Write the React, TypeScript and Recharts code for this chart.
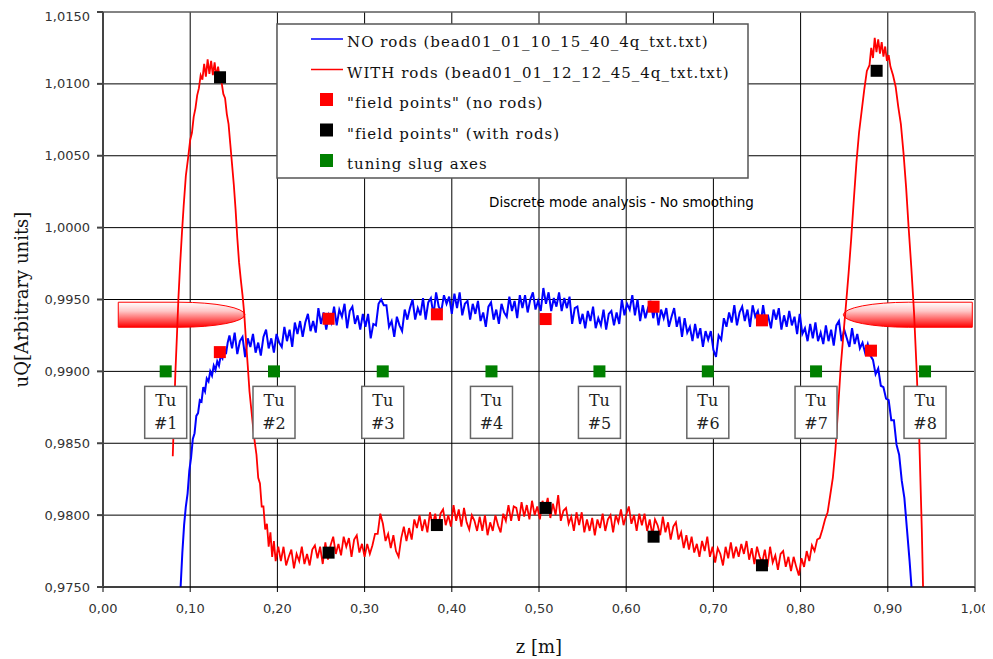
import React from "react";
import {
  ComposedChart,
  Line,
  Scatter,
  XAxis,
  YAxis,
  CartesianGrid,
  ReferenceArea,
  ReferenceLine,
  Customized,
} from "recharts";

// NO rods (blue trace), [z, uQ]
const noRods: [number, number][] = [
  [0.086, 0.97], [0.089, 0.975], [0.091, 0.9774], [0.093, 0.9793], [0.095, 0.9806], [0.097, 0.9815],
  [0.099, 0.9831], [0.101, 0.984], [0.103, 0.9853], [0.105, 0.9857], [0.107, 0.9869], [0.109, 0.9871],
  [0.111, 0.988], [0.113, 0.9879], [0.115, 0.9889], [0.117, 0.9886], [0.119, 0.9895], [0.121, 0.9893],
  [0.123, 0.99], [0.125, 0.9897], [0.127, 0.9904], [0.129, 0.9901], [0.131, 0.9907], [0.133, 0.9904],
  [0.135, 0.9911], [0.137, 0.9909], [0.139, 0.9916], [0.141, 0.9912], [0.143, 0.992],
  [0.145, 0.9925], [0.148, 0.9916], [0.151, 0.9927], [0.154, 0.9912], [0.157, 0.9921], [0.16, 0.9924],
  [0.163, 0.991], [0.166, 0.9923], [0.169, 0.9917], [0.172, 0.9926], [0.175, 0.9913], [0.178, 0.992],
  [0.181, 0.9911], [0.184, 0.9924], [0.187, 0.9929], [0.19, 0.9916], [0.193, 0.9923], [0.196, 0.9913],
  [0.199, 0.9926],
  [0.202, 0.992], [0.205, 0.9917], [0.208, 0.9931], [0.211, 0.9921], [0.214, 0.9929], [0.217, 0.9917],
  [0.22, 0.9934], [0.223, 0.9926], [0.226, 0.9935], [0.229, 0.9924], [0.232, 0.9934], [0.235, 0.994],
  [0.238, 0.9928], [0.241, 0.9935], [0.244, 0.9927], [0.247, 0.9944], [0.25, 0.9933], [0.253, 0.9941],
  [0.256, 0.9929],
  [0.259, 0.9939], [0.262, 0.9934], [0.265, 0.9945], [0.268, 0.9932], [0.271, 0.9943], [0.274, 0.9938],
  [0.277, 0.9947], [0.28, 0.993], [0.283, 0.9942], [0.286, 0.9945], [0.289, 0.9933], [0.292, 0.9939],
  [0.295, 0.9929], [0.298, 0.994],
  [0.301, 0.9931], [0.304, 0.994], [0.307, 0.9923], [0.31, 0.9933], [0.313, 0.9932], [0.316, 0.9947],
  [0.319, 0.995], [0.322, 0.9946], [0.325, 0.9946], [0.328, 0.9931], [0.331, 0.9935], [0.334, 0.9924],
  [0.337, 0.9938],
  [0.34, 0.9932], [0.343, 0.9928], [0.346, 0.9943], [0.349, 0.9936], [0.352, 0.9944], [0.355, 0.995],
  [0.358, 0.9936], [0.361, 0.9944], [0.364, 0.9939], [0.367, 0.9951], [0.37, 0.9936], [0.373, 0.9948],
  [0.376, 0.9951], [0.379, 0.9939], [0.382, 0.9955], [0.385, 0.9945], [0.388, 0.9942], [0.391, 0.9953],
  [0.394, 0.9947], [0.397, 0.9952], [0.4, 0.994],
  [0.403, 0.9954], [0.406, 0.9944], [0.409, 0.9955], [0.412, 0.9939], [0.415, 0.9947], [0.418, 0.9949],
  [0.421, 0.9936], [0.424, 0.9947], [0.427, 0.994], [0.43, 0.9949], [0.433, 0.9935], [0.436, 0.9941],
  [0.439, 0.9931], [0.442, 0.9945], [0.445, 0.9948], [0.448, 0.9936], [0.451, 0.9943], [0.454, 0.9933],
  [0.457, 0.9947], [0.46, 0.9941], [0.463, 0.9938], [0.466, 0.9952], [0.469, 0.9942], [0.472, 0.9949],
  [0.475, 0.9937], [0.478, 0.9953], [0.481, 0.9944], [0.484, 0.9953], [0.487, 0.9941], [0.49, 0.995],
  [0.493, 0.9955], [0.496, 0.9943], [0.499, 0.9949], [0.502, 0.9942], [0.505, 0.9958], [0.508, 0.9947],
  [0.511, 0.9955],
  [0.514, 0.9942], [0.517, 0.9951], [0.52, 0.9945], [0.523, 0.9955], [0.526, 0.9942], [0.529, 0.9951],
  [0.532, 0.9944], [0.535, 0.9952], [0.538, 0.9933], [0.541, 0.9944], [0.544, 0.9945], [0.547, 0.9933],
  [0.55, 0.994], [0.553, 0.993], [0.556, 0.9942], [0.559, 0.9935], [0.562, 0.9945], [0.565, 0.993],
  [0.568, 0.9937], [0.571, 0.9932], [0.574, 0.9943], [0.577, 0.9929], [0.58, 0.994], [0.583, 0.9942],
  [0.586, 0.9932], [0.589, 0.9941], [0.592, 0.9933], [0.595, 0.995], [0.598, 0.9939], [0.601, 0.9947],
  [0.604, 0.9943], [0.607, 0.9953], [0.61, 0.9939], [0.613, 0.995], [0.616, 0.9935], [0.619, 0.9946],
  [0.622, 0.9937], [0.625, 0.9944], [0.628, 0.9949], [0.631, 0.9937], [0.634, 0.9946], [0.637, 0.9932],
  [0.64, 0.9943], [0.643, 0.9937], [0.646, 0.9944], [0.649, 0.9931], [0.652, 0.9938], [0.655, 0.9944],
  [0.658, 0.9931], [0.661, 0.9938], [0.664, 0.9924], [0.667, 0.9937], [0.67, 0.9927], [0.673, 0.9931],
  [0.676, 0.9921],
  [0.679, 0.9933], [0.682, 0.9923], [0.685, 0.993], [0.688, 0.9917], [0.691, 0.9928], [0.694, 0.9922],
  [0.697, 0.9928], [0.7, 0.9915], [0.703, 0.991], [0.706, 0.9925], [0.709, 0.9922], [0.712, 0.9937],
  [0.715, 0.9931], [0.718, 0.9941],
  [0.721, 0.9934], [0.724, 0.9946], [0.727, 0.9932], [0.73, 0.9941], [0.733, 0.9945], [0.736, 0.9935],
  [0.739, 0.9943], [0.742, 0.9931], [0.745, 0.9946], [0.748, 0.9938], [0.751, 0.9942], [0.754, 0.9932],
  [0.757, 0.9946], [0.76, 0.9934], [0.763, 0.9938], [0.766, 0.993], [0.769, 0.9943], [0.772, 0.9936],
  [0.775, 0.9944],
  [0.778, 0.9929], [0.781, 0.9939], [0.784, 0.9931], [0.787, 0.9942], [0.79, 0.9932], [0.793, 0.9938],
  [0.796, 0.9926], [0.799, 0.994], [0.802, 0.9926], [0.805, 0.993], [0.808, 0.9921], [0.811, 0.9933],
  [0.814, 0.9923], [0.817, 0.9934], [0.82, 0.9921], [0.823, 0.9927], [0.826, 0.9919],
  [0.829, 0.9932], [0.832, 0.9921], [0.835, 0.9929], [0.838, 0.9918], [0.841, 0.9932], [0.844, 0.9935],
  [0.847, 0.9921], [0.85, 0.9929], [0.853, 0.9923], [0.856, 0.9917], [0.859, 0.993], [0.862, 0.9919],
  [0.865, 0.9926], [0.868, 0.9916],
  [0.871, 0.992], [0.874, 0.9913], [0.877, 0.9919], [0.88, 0.9911], [0.883, 0.9908], [0.886, 0.9898],
  [0.889, 0.9902], [0.892, 0.989], [0.895, 0.9889], [0.898, 0.9881], [0.901, 0.988], [0.904, 0.9866],
  [0.907, 0.9866], [0.91, 0.9849], [0.913, 0.9842], [0.916, 0.9824], [0.919, 0.9812], [0.922, 0.979],
  [0.925, 0.9768], [0.928, 0.9743], [0.931, 0.971],
];

// WITH rods (red trace), [z, uQ]
const withRods: [number, number][] = [
  [0.08, 0.9841], [0.0815, 0.987], [0.083, 0.9899], [0.0848, 0.9925], [0.0865, 0.9951], [0.0885, 0.9975],
  [0.0905, 0.9996], [0.0925, 1.0015], [0.095, 1.0036], [0.0975, 1.0048], [0.1, 1.0061], [0.102, 1.0066],
  [0.104, 1.0077], [0.106, 1.0083], [0.108, 1.0092], [0.11, 1.0097], [0.112, 1.0106], [0.114, 1.0103],
  [0.116, 1.0114], [0.118, 1.0105], [0.12, 1.0117], [0.122, 1.0107], [0.124, 1.0116], [0.126, 1.0106],
  [0.128, 1.0115], [0.13, 1.0105], [0.132, 1.0112], [0.134, 1.0103], [0.136, 1.0101], [0.138, 1.0093],
  [0.14, 1.009], [0.142, 1.0079], [0.144, 1.0072], [0.146, 1.0058], [0.148, 1.0044], [0.15, 1.003],
  [0.152, 1.0013], [0.154, 0.9993], [0.156, 0.9976], [0.158, 0.9964], [0.16, 0.9953], [0.162, 0.994],
  [0.164, 0.9921], [0.166, 0.9904], [0.168, 0.9886], [0.17, 0.9874], [0.172, 0.9862], [0.174, 0.9851],
  [0.176, 0.9842], [0.178, 0.9826], [0.18, 0.9822], [0.182, 0.9806], [0.184, 0.9806], [0.186, 0.979],
  [0.188, 0.9794], [0.19, 0.9778], [0.192, 0.9788], [0.194, 0.9771], [0.196, 0.9782], [0.198, 0.9768],
  [0.201, 0.9778], [0.204, 0.9768], [0.207, 0.9778], [0.21, 0.9765], [0.213, 0.9771], [0.216, 0.9776],
  [0.219, 0.9763], [0.222, 0.9773], [0.225, 0.9768], [0.228, 0.9778], [0.231, 0.9766], [0.234, 0.9773],
  [0.237, 0.9765], [0.24, 0.9776], [0.243, 0.9779], [0.246, 0.977], [0.249, 0.9778], [0.252, 0.9766],
  [0.255, 0.9781],
  [0.258, 0.9769], [0.261, 0.9779], [0.264, 0.9785], [0.267, 0.9773], [0.27, 0.978], [0.273, 0.9772],
  [0.276, 0.9785], [0.279, 0.9778], [0.282, 0.9784], [0.285, 0.9771], [0.288, 0.9783], [0.291, 0.9786],
  [0.294, 0.9774], [0.297, 0.978], [0.3, 0.9771], [0.303, 0.978], [0.306, 0.9773], [0.309, 0.9779],
  [0.312, 0.9787], [0.315, 0.9787], [0.318, 0.9801], [0.321, 0.9794], [0.324, 0.9782], [0.327, 0.9787],
  [0.33, 0.9777], [0.333, 0.9786], [0.336, 0.9775], [0.339, 0.9771], [0.342, 0.9784], [0.345, 0.9792],
  [0.348, 0.9782], [0.351, 0.9791], [0.354, 0.9783], [0.357, 0.9797], [0.36, 0.9791], [0.363, 0.98],
  [0.366, 0.9789], [0.369, 0.9797], [0.372, 0.9788], [0.375, 0.9802], [0.378, 0.9793], [0.381, 0.9801],
  [0.384, 0.9789], [0.387, 0.9801], [0.39, 0.9804], [0.393, 0.9793], [0.396, 0.98], [0.399, 0.9792],
  [0.402, 0.9807],
  [0.405, 0.9796], [0.408, 0.9804], [0.411, 0.9792], [0.414, 0.9805], [0.417, 0.9795], [0.42, 0.979],
  [0.423, 0.98], [0.426, 0.9796], [0.429, 0.9789], [0.432, 0.9799], [0.435, 0.9789], [0.438, 0.98],
  [0.441, 0.9786], [0.444, 0.9795], [0.447, 0.9789], [0.45, 0.98], [0.453, 0.9793], [0.456, 0.9788],
  [0.459, 0.9801], [0.462, 0.9796], [0.465, 0.9807], [0.468, 0.9796], [0.471, 0.9806], [0.474, 0.9805],
  [0.477, 0.9796], [0.48, 0.9809], [0.483, 0.9799], [0.486, 0.9807], [0.489, 0.9797], [0.492, 0.981],
  [0.495, 0.98], [0.498, 0.9806], [0.501, 0.9797], [0.504, 0.981], [0.507, 0.9804], [0.51, 0.9812],
  [0.513, 0.9798], [0.516, 0.9808], [0.519, 0.98], [0.522, 0.9814], [0.525, 0.9796], [0.528, 0.9803],
  [0.531, 0.9805], [0.534, 0.9794], [0.537, 0.9799], [0.54, 0.9789], [0.543, 0.9802], [0.546, 0.9793],
  [0.549, 0.9802], [0.552, 0.9788], [0.555, 0.9797], [0.558, 0.9789], [0.561, 0.9798], [0.564, 0.9786],
  [0.567, 0.9797], [0.57, 0.9791], [0.573, 0.9801], [0.576, 0.9789], [0.579, 0.9797], [0.582, 0.98],
  [0.585, 0.9788], [0.588, 0.98], [0.591, 0.9795], [0.594, 0.9804], [0.597, 0.9793], [0.6, 0.98],
  [0.603, 0.9806], [0.606, 0.9794], [0.609, 0.98], [0.612, 0.9789], [0.615, 0.9801], [0.618, 0.9793],
  [0.621, 0.9801], [0.624, 0.9789], [0.627, 0.9797], [0.63, 0.9786], [0.633, 0.9797], [0.636, 0.9793],
  [0.639, 0.9786], [0.642, 0.9799], [0.645, 0.9788], [0.648, 0.9795], [0.651, 0.9783], [0.654, 0.9792],
  [0.657, 0.9795], [0.66, 0.9783], [0.663, 0.9788], [0.666, 0.9777], [0.669, 0.9786], [0.672, 0.9776],
  [0.675, 0.9785], [0.678, 0.9774], [0.681, 0.978], [0.684, 0.9771], [0.687, 0.9782], [0.69, 0.9775],
  [0.693, 0.9785], [0.696, 0.9771], [0.699, 0.9778], [0.702, 0.9767], [0.705, 0.9777], [0.708, 0.9773],
  [0.711, 0.9765], [0.714, 0.9778], [0.717, 0.977], [0.72, 0.9781], [0.723, 0.977], [0.726, 0.9778],
  [0.729, 0.9771], [0.732, 0.978], [0.735, 0.9773], [0.738, 0.9782], [0.741, 0.9769], [0.744, 0.9777],
  [0.747, 0.9766], [0.75, 0.9778], [0.753, 0.9771], [0.756, 0.9767], [0.759, 0.9776], [0.762, 0.9764],
  [0.765, 0.9778], [0.768, 0.9767], [0.771, 0.9772], [0.774, 0.9762], [0.777, 0.9773], [0.78, 0.9775],
  [0.783, 0.9764], [0.786, 0.9771], [0.789, 0.9761], [0.792, 0.9771], [0.795, 0.9764], [0.798, 0.9758],
  [0.801, 0.977], [0.804, 0.9764], [0.807, 0.9775], [0.81, 0.9768], [0.813, 0.9779], [0.816, 0.9775],
  [0.819, 0.9783],
  [0.822, 0.9784], [0.825, 0.979], [0.828, 0.9797], [0.831, 0.9802], [0.834, 0.9814], [0.837, 0.9826],
  [0.84, 0.9846], [0.843, 0.9874], [0.846, 0.9903], [0.849, 0.9925], [0.852, 0.9946], [0.855, 0.9968],
  [0.858, 0.9992], [0.861, 1.0019], [0.864, 1.0045], [0.867, 1.0066], [0.87, 1.0081], [0.873, 1.0096],
  [0.876, 1.0109], [0.879, 1.0113], [0.881, 1.0125], [0.883, 1.0118], [0.885, 1.0132], [0.887, 1.0122],
  [0.889, 1.0131], [0.891, 1.0121], [0.893, 1.0129], [0.895, 1.0119], [0.897, 1.0126], [0.899, 1.0116],
  [0.901, 1.012], [0.903, 1.0112], [0.906, 1.0106], [0.909, 1.0098], [0.912, 1.0084], [0.915, 1.0072],
  [0.918, 1.0052], [0.921, 1.0028], [0.924, 0.9999], [0.927, 0.9972], [0.93, 0.9942], [0.933, 0.9902],
  [0.936, 0.9855], [0.939, 0.979], [0.9415, 0.972],
];

// "field points"
const fieldZNoRods = [0.134, 0.2587, 0.3829, 0.5076, 0.6314, 0.7557, 0.8807];
const fieldQNoRods = [0.99134, 0.99366, 0.99397, 0.99364, 0.9945, 0.99355, 0.99144];
const fieldZWithRods = [0.1342, 0.2587, 0.3829, 0.5076, 0.6314, 0.7557, 0.8872];
const fieldQWithRods = [1.01046, 0.97739, 0.97931, 0.9805, 0.9785, 0.97651, 1.01091];

// tuning slug axes
const slugZ = [0.0719, 0.1961, 0.3208, 0.4455, 0.5693, 0.6936, 0.8177, 0.9427];
const slugQ = 0.99;
const slugLabels = ["#1", "#2", "#3", "#4", "#5", "#6", "#7", "#8"];

// rods drawn on the plot: [z start, z end, rounded side]
const rodZ: [number, number, string][] = [
  [0.0175, 0.1628, "right"],
  [0.8489, 0.9969, "left"],
];
const rodQ = [0.99307, 0.99481];

const xTicks = [0, 0.1, 0.2, 0.3, 0.4, 0.5, 0.6, 0.7, 0.8, 0.9, 1];
const yTicks = [0.975, 0.98, 0.985, 0.99, 0.995, 1, 1.005, 1.01, 1.015];

const legendItems = [
  { kind: "line", color: "#0000ff", text: "NO rods (bead01_01_10_15_40_4q_txt.txt)" },
  { kind: "line", color: "#ff0000", text: "WITH rods (bead01_01_12_12_45_4q_txt.txt)" },
  { kind: "square", color: "#ff0000", text: "\"field points\" (no rods)" },
  { kind: "square", color: "#000000", text: "\"field points\" (with rods)" },
  { kind: "square", color: "#008000", text: "tuning slug axes" },
];

const toPts = (arr: [number, number][]) => arr.map(([z, q]) => ({ z, q }));
const noRodsData = toPts(noRods);
const withRodsData = toPts(withRods);
const fieldNoData = fieldZNoRods.map((z, i) => ({ z, q: fieldQNoRods[i] }));
const fieldWithData = fieldZWithRods.map((z, i) => ({ z, q: fieldQWithRods[i] }));
const slugData = slugZ.map((z, i) => ({ z, q: slugQ, label: slugLabels[i] }));

const tickFont = { fontFamily: "DejaVu Sans", fontSize: 13, fill: "#333" };

const square = (color: string) => (p: any) =>
  <rect x={p.cx - 6} y={p.cy - 6} width={12} height={12} fill={color} />;

const TuBox = (p: any) => (
  <g>
    <rect x={p.cx - 21} y={p.cy + 15} width={42} height={52} fill="#fff" stroke="#666" strokeWidth={1.5} />
    <text x={p.cx} y={p.cy + 29} textAnchor="middle" dominantBaseline="central"
      fontFamily="DejaVu Serif" fontSize={16} fill="#222">Tu</text>
    <text x={p.cx} y={p.cy + 52} textAnchor="middle" dominantBaseline="central"
      fontFamily="DejaVu Serif" fontSize={16} fill="#222">{p.payload.label}</text>
  </g>
);

const rodShape = (side: string) => (p: any) => {
  const { x, y, width, height } = p;
  const rx = 65;
  const d = side === "right"
    ? `M${x},${y} H${x + width - rx} A${rx},${height / 2} 0 0 1 ${x + width - rx},${y + height} H${x} Z`
    : `M${x + width},${y} H${x + rx} A${rx},${height / 2} 0 0 0 ${x + rx},${y + height} H${x + width} Z`;
  return <path d={d} fill="url(#rodFill)" stroke="#ff0000" strokeWidth={1} />;
};

const ChartLegend = () => (
  <g>
    <rect x={269} y={16} width={471} height={154} fill="#fff" stroke="#555" strokeWidth={1.5} />
    {legendItems.map((it, i) => {
      const cy = 34 + i * 30.5;
      return (
        <g key={i}>
          {it.kind === "line"
            ? <line x1={303} x2={335} y1={cy - 3} y2={cy - 3} stroke={it.color} strokeWidth={1.5} />
            : <rect x={312} y={cy - 10} width={13} height={13} fill={it.color} />}
          <text x={339} y={cy} dominantBaseline="central" fontFamily="DejaVu Serif"
            fontSize={15} letterSpacing={1} fill="#111">{it.text}</text>
        </g>
      );
    })}
    <text x={481} y={194} dominantBaseline="central" fontFamily="DejaVu Sans"
      fontSize={13.5} fill="#000">Discrete mode analysis - No smoothing</text>
  </g>
);

export default function App() {
  return (
    <ComposedChart width={985} height={651} margin={{ top: 4, right: 18, bottom: 0, left: 0 }}>
      <defs>
        <linearGradient id="rodFill" x1="0" y1="0" x2="0" y2="1">
          <stop offset="0%" stopColor="#ffffff" />
          <stop offset="35%" stopColor="#ffc8c8" />
          <stop offset="100%" stopColor="#ff0000" />
        </linearGradient>
      </defs>
      <CartesianGrid stroke="#000" strokeWidth={1} horizontalValues={yTicks} verticalValues={xTicks} />
      <XAxis
        type="number"
        dataKey="z"
        domain={[0, 1]}
        ticks={xTicks}
        allowDataOverflow
        height={72}
        stroke="#000"
        tickSize={5}
        tickMargin={12}
        tick={tickFont}
        tickFormatter={(v: number) => v.toFixed(2).replace(".", ",")}
        label={{ value: "z [m]", position: "insideBottom", offset: 6,
          style: { fontFamily: "DejaVu Serif", fontSize: 18, fill: "#111" } }}
      />
      <YAxis
        type="number"
        dataKey="q"
        domain={[0.975, 1.015]}
        ticks={yTicks}
        allowDataOverflow
        width={95}
        stroke="#444"
        strokeWidth={2}
        tickSize={6}
        tickMargin={7}
        tick={tickFont}
        tickFormatter={(v: number) => v.toFixed(4).replace(".", ",")}
        label={{ value: "uQ[Arbitrary units]", angle: -90, position: "insideLeft", offset: 14,
          style: { textAnchor: "middle", fontFamily: "DejaVu Serif", fontSize: 18, fill: "#111" } }}
      />
      <ReferenceLine x={1} stroke="#888" strokeWidth={2} />
      <ReferenceLine y={1.015} stroke="#888" strokeWidth={1} />
      <Line data={noRodsData} dataKey="q" stroke="#0000ff" strokeWidth={2} dot={false}
        type="linear" isAnimationActive={false} />
      <Line data={withRodsData} dataKey="q" stroke="#ff0000" strokeWidth={1.8} dot={false}
        type="linear" isAnimationActive={false} />
      {rodZ.map(([z1, z2, side], i) => (
        <ReferenceArea key={i} x1={z1} x2={z2} y1={rodQ[0]} y2={rodQ[1]} shape={rodShape(side)} />
      ))}
      <Scatter data={fieldNoData} shape={square("#ff0000")} isAnimationActive={false} />
      <Scatter data={fieldWithData} shape={square("#000000")} isAnimationActive={false} />
      <Scatter data={slugData} shape={square("#008000")} isAnimationActive={false} />
      <Scatter data={slugData} shape={TuBox} isAnimationActive={false} />
      <Customized component={ChartLegend} />
    </ComposedChart>
  );
}
